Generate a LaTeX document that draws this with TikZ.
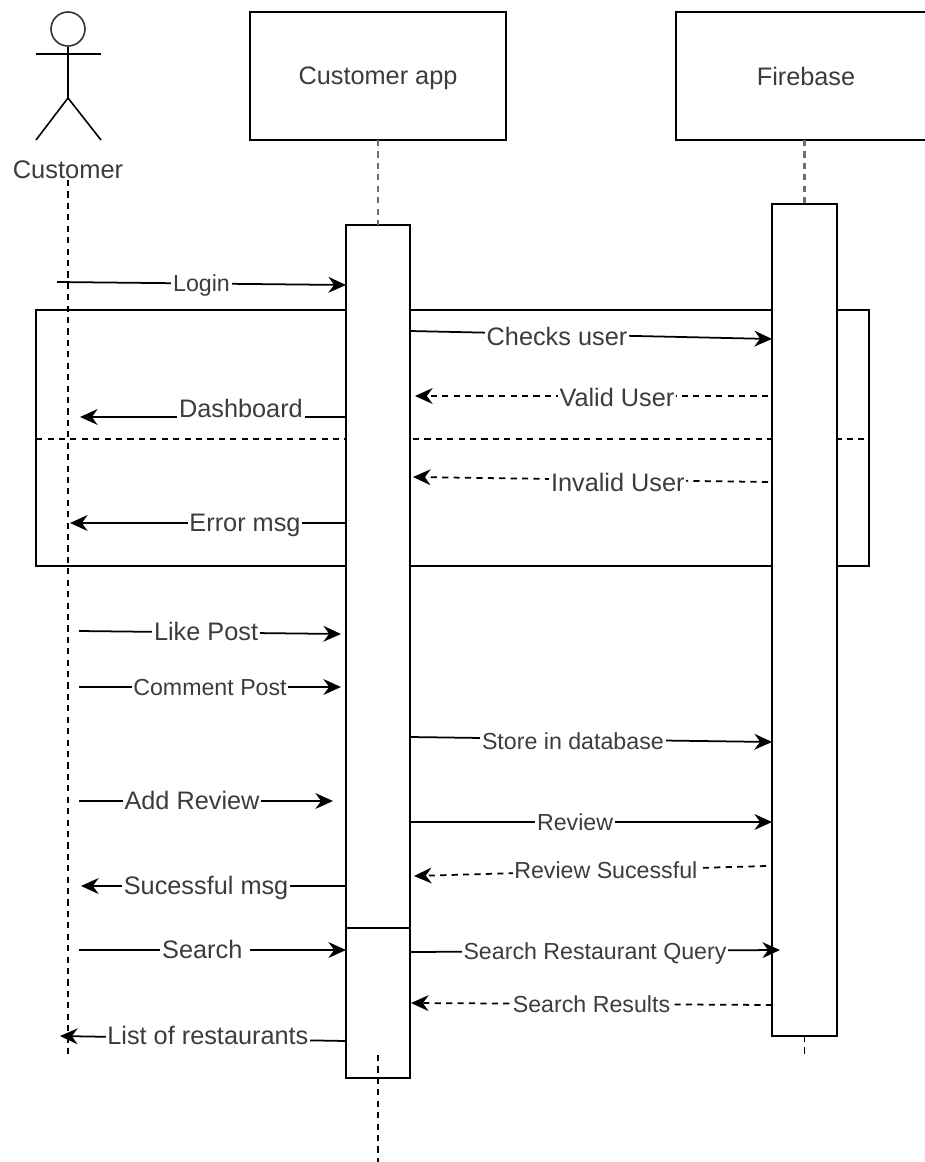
\documentclass[tikz,border=0pt]{standalone}
\usepackage{fontspec}
\setmainfont{Liberation Sans}
\usetikzlibrary{arrows.meta, calc}
\definecolor{InkGray}{RGB}{60,60,60}
\definecolor{LifeGray}{RGB}{110,110,110}

\begin{document}
\begin{tikzpicture}[x=0.02cm, y=-0.02cm,
		box/.style={draw=black, line width=1.1pt, fill=white, inner sep=0pt, outer sep=0pt, text=InkGray, font=\fontsize{14.4}{17}\selectfont},
		bar/.style={draw=black, line width=1.1pt, fill=white, inner sep=0pt, outer sep=0pt, minimum width=1.28cm},
		frame/.style={draw=black, line width=1pt, inner sep=0pt, outer sep=0pt, minimum width=16.66cm, minimum height=5.12cm},
		lbl/.style={fill=white, inner xsep=1pt, inner ysep=1pt, text height=0.33cm, text depth=0cm, text=InkGray, font=\fontsize{13.2}{16}\selectfont},
		lblbig/.style={lbl, font=\fontsize{14.4}{17}\selectfont},
		msg/.style={-{Stealth[length=10pt, width=9pt]}, line width=1pt},
		ret/.style={msg, dash pattern=on 3.5pt off 3pt},
		life/.style={line width=0.8pt, dash pattern=on 3.5pt off 3pt},
		lifegray/.style={line width=1.7pt, LifeGray, dash pattern=on 3.5pt off 3pt}]
	\useasboundingbox (0,0) rectangle (925,1162);

	\node[frame] (altFrame) at (452.5,438) {};
	\draw[line width=0.8pt, dash pattern=on 3.5pt off 3pt] ([yshift=-0.02cm]altFrame.west) -- ([xshift=-0.08cm, yshift=-0.02cm]altFrame.east);

	\node[circle, draw=black!80, line width=0.9pt, minimum size=0.68cm, inner sep=0pt] (head) at (68,29) {};
	\coordinate (armL) at (36,54);
	\coordinate (armR) at (101,54);
	\coordinate (hip) at (68,98);
	\coordinate (footL) at (36,140);
	\coordinate (footR) at (101,140);
	\draw[line width=0.9pt] (head.south) -- (hip);
	\draw[line width=0.9pt] (armL) -- (armR);
	\draw[line width=0.9pt] (footL) -- (hip) -- (footR);
	\node[text=InkGray, font=\fontsize{14.5}{17}\selectfont] (custLabel) at (68,170) {Customer};
	\coordinate (custEnd) at (68,1058);
	\coordinate (custTop) at (68,180);
	\draw[life] (custTop) -- (custEnd);

	\node[box, minimum width=5.12cm, minimum height=2.56cm, text height=0.33cm, text depth=0cm] (appBox) at (378,76) {Customer app};
	\node[box, minimum width=5.2cm, minimum height=2.56cm] (fireBox) at (806,76) {Firebase};
	\node[bar, minimum height=14.06cm] (appBar) at (378,576.5) {};
	\node[bar, minimum height=3cm] (appBarLow) at (378,1003) {};
	\node[bar, minimum width=1.3cm, minimum height=16.64cm] (fireBar) at (804.5,620) {};

	\draw[lifegray] (appBox.south) -- (appBar.north);
	\draw[lifegray] (fireBar.north |- fireBox.south) -- (fireBar.north);
	\coordinate (appEnd) at (378,1162);
	\coordinate (appLow) at (378,1055);
	\draw[life] (appLow) -- (appEnd);
	\coordinate (fireEnd) at (804.5,1058);
	\draw[life] (fireBar.south) -- (fireEnd);

	\coordinate (loginStart) at (57,282);
	\coordinate (likeStart) at (79,631);
	\coordinate (commentStart) at (79,687);
	\coordinate (addStart) at (79,801);
	\coordinate (addEnd) at (333,801);
	\coordinate (searchStart) at (79,950);

	\draw[msg] (loginStart) -- node[lbl, pos=0.5] {Login} (appBar.west |- 0,285);
	\draw[msg] (appBar.east |- 0,331) -- node[lblbig, pos=0.406, yshift=-0.06cm] {Checks user} (fireBar.west |- 0,339);
	\draw[ret] (fireBar.west |- 0,396) ++(-4,0) -- node[lblbig, pos=0.428, yshift=-0.04cm] {Valid User} ($(appBar.east |- 0,396)+(5,0)$);
	\draw[msg] (appBar.west |- 0,417) -- node[lblbig, pos=0.395, yshift=0.16cm] {Dashboard} (80,417);
	\draw[ret] (fireBar.west |- 0,482) ++(-4,0) -- node[lblbig, pos=0.423, yshift=-0.06cm] {Invalid User} ($(appBar.east |- 0,477)+(3,0)$);
	\draw[msg] (appBar.west |- 0,523) -- node[lblbig, pos=0.366] {Error msg} (70,523);
	\draw[msg] (likeStart) -- node[lblbig, pos=0.485] {Like Post} ($(appBar.west |- 0,634)+(-5,0)$);
	\draw[msg] (commentStart) -- node[lbl, pos=0.5] {Comment Post} ($(appBar.west |- 0,687)+(-5,0)$);
	\draw[msg] (appBar.east |- 0,737) -- node[lbl, pos=0.45, yshift=-0.04cm] {Store in database} (fireBar.west |- 0,742);
	\draw[msg] (addStart) -- node[lblbig, pos=0.445] {Add Review} (addEnd);
	\draw[msg] (appBar.east |- 0,822) -- node[lbl, pos=0.456] {Review} (fireBar.west |- 0,822);
	\draw[ret] (fireBar.west |- 0,866) ++(-6,0) -- node[lbl, pos=0.455] {Review Sucessful} ($(appBar.east |- 0,876)+(4,0)$);
	\draw[msg] (appBar.west |- 0,886) -- node[lblbig, pos=0.528] {Sucessful msg} (81,886);
	\draw[msg] (searchStart) -- node[lblbig, pos=0.473] {Search\hspace*{0.12cm}} (appBarLow.west |- 0,950);
	\draw[msg] (appBarLow.east |- 0,952) -- node[lbl, pos=0.5] {Search Restaurant Query} ($(fireBar.west |- 0,950)+(8,0)$);
	\draw[ret] (fireBar.west |- 0,1005) -- node[lbl, pos=0.5] {Search Results} ($(appBarLow.east |- 0,1003)+(1,0)$);
	\draw[msg] (appBarLow.west |- 0,1041) -- node[lblbig, pos=0.483, yshift=0.04cm] {List of restaurants} (60,1036);
\end{tikzpicture}
\end{document}
